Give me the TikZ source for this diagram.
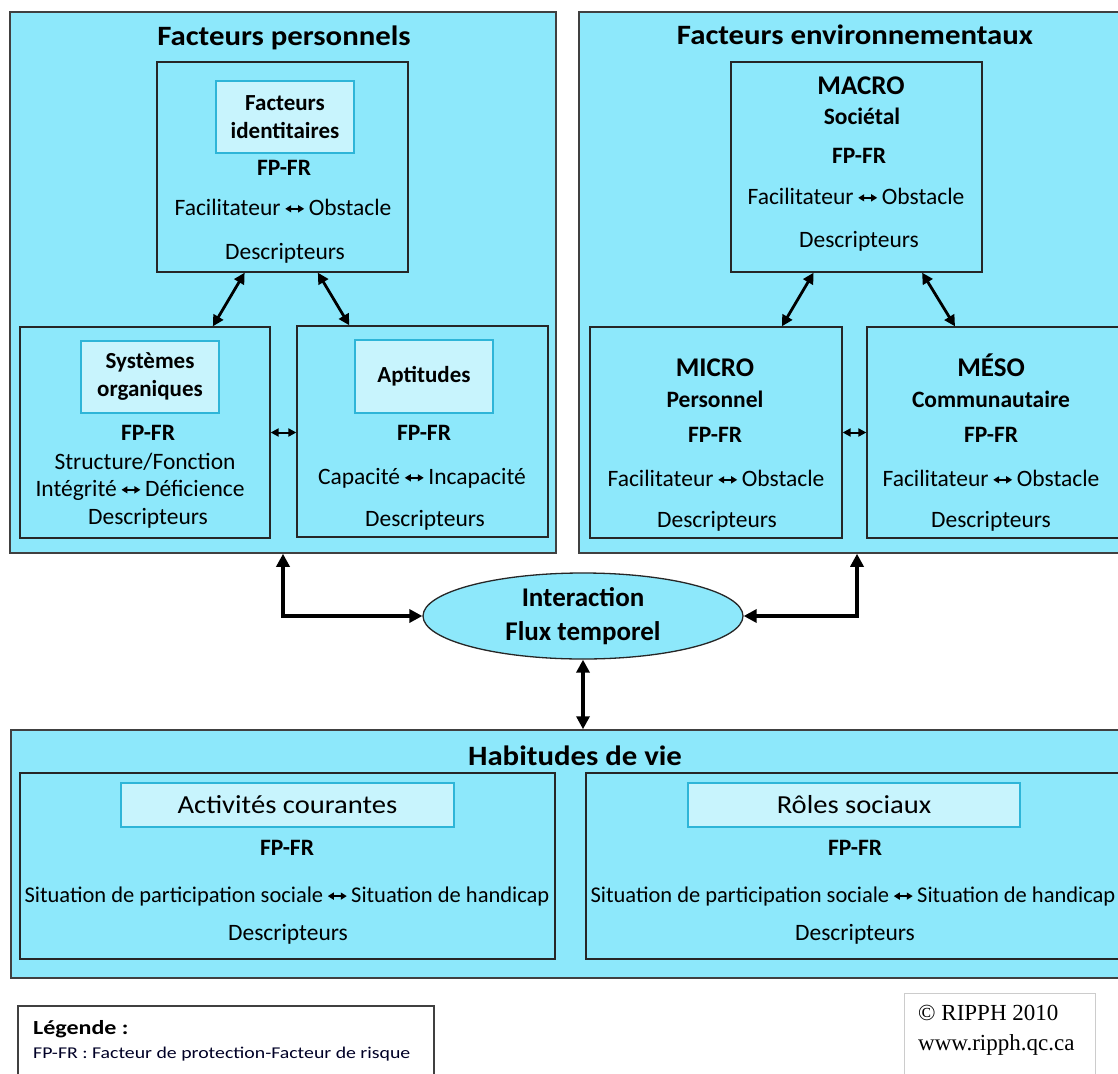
\documentclass[tikz,border=0pt]{standalone}
\usepackage{fontspec}
\setmainfont{Carlito}
\newfontfamily\widefont[FakeStretch=1.1]{Carlito}
\newfontfamily\legfont[FakeStretch=1.2]{Carlito}
\newfontfamily\serifcr{Liberation Serif}
\usetikzlibrary{arrows.meta,shapes.geometric,calc}
\definecolor{cyanbg}{HTML}{8DE8FB}
\definecolor{litebg}{HTML}{C8F4FD}
\definecolor{liteline}{HTML}{2EB5D8}
\definecolor{outline}{HTML}{404040}
\newcommand\fs[1]{\fontsize{#1}{#1}\selectfont}
\newcommand\lra{\tikz[baseline=-0.28em]\draw[line width=1.4pt,{Triangle[length=6pt,width=7pt]}-{Triangle[length=6pt,width=7pt]}](0pt,0pt)--(19pt,0pt);}
\begin{document}
\begin{tikzpicture}[x=1pt,y=-1pt,
  outer/.style={draw=outline, fill=cyanbg, line width=1.5pt, inner sep=0pt},
  inner/.style={draw=black!85, fill=cyanbg, line width=1.3pt, inner sep=0pt},
  lite/.style={draw=liteline, fill=litebg, line width=1.3pt, inner sep=0pt, align=center},
  t23/.style={inner sep=0pt, font=\fs{23.5}, text height=14.8pt, text depth=0pt},
  b23/.style={inner sep=0pt, font=\fs{23.5}\bfseries, text height=14.8pt, text depth=0pt},
  b27/.style={inner sep=0pt, font=\fs{27}\bfseries, text height=17pt, text depth=0pt},
  ttl/.style={inner sep=0pt, font=\widefont\fs{28}\bfseries, text height=17.7pt, text depth=0pt},
  bigarr/.style={line width=3.5pt, {Triangle[length=13pt,width=13pt]}-{Triangle[length=13pt,width=13pt]}},
  midarr/.style={line width=2.8pt, {Triangle[length=11pt,width=11pt]}-{Triangle[length=11pt,width=11pt]}},
  smallarr/.style={line width=2pt, {Triangle[length=8pt,width=8pt]}-{Triangle[length=8pt,width=8pt]}}
]
\useasboundingbox (0,0) rectangle (1118,1073);
\clip (0,0) rectangle (1118,1073);
\fill[white] (0,0) rectangle (1118,1073);

% outer boxes
\node[outer, minimum width=546pt, minimum height=541pt] (fp) at (283,282.5) {};
\node[outer, minimum width=556pt, minimum height=541pt] (fe) at (857,282.5) {};
\node[outer, minimum width=1124pt, minimum height=248pt] (hv) at (573,854) {};

\node[ttl] (fpT) at (284,37) {Facteurs personnels};
\node[ttl] (feT) at (855,36) {Facteurs environnementaux};
\node[ttl] (hvT) at (575,757) {Habitudes de vie};

% inner boxes
\node[inner, minimum width=251pt, minimum height=210pt] (ident) at (282.5,167) {};
\node[inner, minimum width=250pt, minimum height=211pt] (sys) at (145,432.5) {};
\node[inner, minimum width=251pt, minimum height=211pt] (apt) at (422.5,431.5) {};
\node[inner, minimum width=251pt, minimum height=210pt] (macro) at (856.5,167) {};
\node[inner, minimum width=252pt, minimum height=211pt] (micro) at (716,432.5) {};
\node[inner, minimum width=252pt, minimum height=211pt] (meso) at (993,432.5) {};
\node[inner, minimum width=535pt, minimum height=186pt] (act) at (287.5,866) {};
\node[inner, minimum width=535pt, minimum height=186pt] (roles) at (853.5,866) {};

% light boxes
\node[lite, minimum width=138pt, minimum height=72pt, font=\fontsize{23}{28}\selectfont\bfseries] (identL) at (285,117) {Facteurs\\identitaires};
\node[lite, minimum width=138pt, minimum height=72pt, font=\fontsize{23}{28}\selectfont\bfseries] (sysL) at (150,377) {Systèmes\\organiques};
\node[lite, minimum width=138pt, minimum height=73pt, font=\fontsize{23}{28}\selectfont\bfseries] (aptL) at (424,376.5) {Aptitudes};
\node[lite, minimum width=333pt, minimum height=44pt, font=\widefont\fs{26}] (actL) at (287.5,805) {Activités courantes};
\node[lite, minimum width=332pt, minimum height=44pt, font=\widefont\fs{26}] (rolesL) at (854,805) {Rôles sociaux};

% identitaires
\node[b23] (identF) at (284,168) {FP-FR};
\node[t23] (identO) at (283,208) {Facilitateur\,\lra\,Obstacle};
\node[t23] (identD) at (285,252) {Descripteurs};
% systemes
\node[b23] (sysF) at (148,433) {FP-FR};
\node[t23] (sysS) at (145,462) {Structure/Fonction};
\node[t23] (sysI) at (140,489) {Intégrité\,\lra\,Déficience};
\node[t23] (sysD) at (148,517) {Descripteurs};
% aptitudes
\node[b23] (aptF) at (424,433) {FP-FR};
\node[t23] (aptC) at (422,477) {Capacité\,\lra\,Incapacité};
\node[t23] (aptD) at (425,519) {Descripteurs};
% macro
\node[b27] (macroT) at (861,86) {MACRO};
\node[b23] (macroS) at (862,117) {Sociétal};
\node[b23] (macroF) at (859,156) {FP-FR};
\node[t23] (macroO) at (856,197) {Facilitateur\,\lra\,Obstacle};
\node[t23] (macroD) at (859,240) {Descripteurs};
% micro
\node[b27] (microT) at (715,368) {MICRO};
\node[b23] (microS) at (715,400) {Personnel};
\node[b23] (microF) at (715,435) {FP-FR};
\node[t23] (microO) at (716,479) {Facilitateur\,\lra\,Obstacle};
\node[t23] (microD) at (717,520) {Descripteurs};
% meso
\node[b27] (mesoT) at (991,368) {MÉSO};
\node[b23] (mesoS) at (991,400) {Communautaire};
\node[b23] (mesoF) at (991,435) {FP-FR};
\node[t23] (mesoO) at (991,479) {Facilitateur\,\lra\,Obstacle};
\node[t23] (mesoD) at (991,520) {Descripteurs};
% activites
\node[b23] (actF) at (287,848) {FP-FR};
\node[t23, font=\fs{22.5}] (actS) at (287,895) {Situation de participation sociale\,\lra\,Situation de handicap};
\node[t23] (actD) at (288,933) {Descripteurs};
% roles
\node[b23] (rolesF) at (855,848) {FP-FR};
\node[t23, font=\fs{22.5}] (rolesS) at (853,895) {Situation de participation sociale\,\lra\,Situation de handicap};
\node[t23] (rolesD) at (855,933) {Descripteurs};

% ellipse
\node[ellipse, draw=black!85, fill=cyanbg, line width=1.3pt, minimum width=320pt, minimum height=86pt, inner sep=0pt] (ell) at (583,616) {};
\node[b27] (ellA) at (583,598) {Interaction};
\node[b27] (ellB) at (583,632) {Flux temporel};

% connectors
\draw[bigarr] (fp.south) |- (ell.west);
\draw[bigarr] (fe.south) |- (ell.east);
\draw[bigarr] (ell.south) -- (ell.south |- hv.north);

\draw[midarr] ($(ident.south west)!0.35!(ident.south east)$) -- ($(sys.north west)!0.77!(sys.north east)$);
\draw[midarr] ($(ident.south west)!0.64!(ident.south east)$) -- ($(apt.north west)!0.21!(apt.north east)$);
\draw[midarr] ($(macro.south west)!0.33!(macro.south east)$) -- ($(micro.north west)!0.76!(micro.north east)$);
\draw[midarr] ($(macro.south west)!0.76!(macro.south east)$) -- ($(meso.north west)!0.35!(meso.north east)$);

\draw[smallarr] (sys.east) -- (sys.east -| apt.west);
\draw[smallarr] (micro.east) -- (meso.west);

% legend
\node[draw=outline, fill=white, line width=1.5pt, minimum width=416pt, minimum height=90pt, inner sep=0pt] (leg) at (226,1051) {};
\node[anchor=west, inner sep=0pt, font=\legfont\fs{20}\bfseries, text height=12.6pt, text depth=0pt] (legT) at (33,1028) {Légende :};
\node[anchor=west, inner sep=0pt, font=\legfont\fs{16.5}, text height=10.4pt, text depth=0pt, text=black!85!blue] (legD) at (33,1053) {FP-FR : Facteur de protection-Facteur de risque};

% copyright
\node[draw=black!20, fill=white, line width=1pt, minimum width=191pt, minimum height=100pt, inner sep=0pt] (cp) at (1000,1043) {};
\node[anchor=west, inner sep=0pt, font=\serifcr\fs{23}, text height=15pt, text depth=0pt] (cpA) at (918,1013) {© RIPPH 2010};
\node[anchor=west, inner sep=0pt, font=\serifcr\fs{23}, text height=15pt, text depth=0pt] (cpB) at (918,1043) {www.ripph.qc.ca};
\end{tikzpicture}
\end{document}
